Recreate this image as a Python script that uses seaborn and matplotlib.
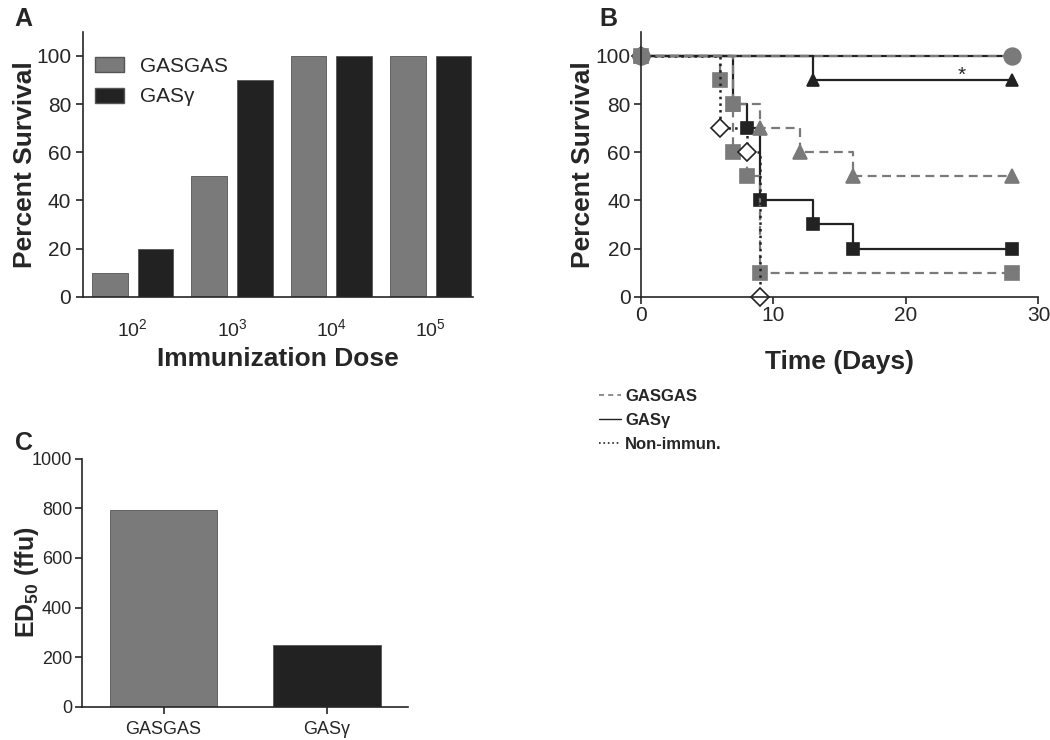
import numpy as np
import pandas as pd
import matplotlib
matplotlib.use("Agg")
import matplotlib.pyplot as plt
from matplotlib.patches import Patch
from matplotlib.lines import Line2D
import seaborn as sns

# Panel A: survival by immunization dose
doses = ["$10^2$", "$10^3$", "$10^4$", "$10^5$"]
gasgas_survival = [10, 50, 100, 100]
gasgamma_survival = [20, 90, 100, 100]

# Panel B: survival curves (days, percent)
circ_gasgamma_days = [0, 28]
circ_gasgamma_surv = [100, 100]
circ_gasgas_days = [0, 28]
circ_gasgas_surv = [100, 100]
tri_gasgamma_days = [0, 13, 28]
tri_gasgamma_surv = [100, 90, 90]
tri_gasgas_days = [0, 7, 9, 12, 16, 28]
tri_gasgas_surv = [100, 80, 70, 60, 50, 50]
sq_gasgamma_days = [0, 7, 8, 9, 13, 16, 28]
sq_gasgamma_surv = [100, 80, 70, 40, 30, 20, 20]
sq_gasgas_days = [0, 6, 7, 7, 8, 9, 28]
sq_gasgas_surv = [100, 90, 80, 60, 50, 10, 10]
nonimmun_days = [0, 6, 8, 9]
nonimmun_surv = [100, 70, 60, 0]

# Panel C: ED50
strains = ["GASGAS", "GASγ"]
ed50 = [793, 250]

GRAY = "#7a7a7a"
BLACK = "#222222"

sns.set_style("ticks")
plt.rcParams["font.family"] = ["Liberation Sans", "DejaVu Sans"]
plt.rcParams["mathtext.fontset"] = "custom"
plt.rcParams["mathtext.rm"] = "Liberation Sans"
plt.rcParams["mathtext.bf"] = "Liberation Sans:bold"
plt.rcParams["axes.linewidth"] = 1.2
plt.rcParams["xtick.major.width"] = 1.2
plt.rcParams["ytick.major.width"] = 1.2
plt.rcParams["xtick.major.size"] = 5
plt.rcParams["ytick.major.size"] = 5

fig = plt.figure(figsize=(10.5, 7.4), dpi=100)

# ---------------- Panel A ----------------
axA = fig.add_axes([0.079, 0.599, 0.371, 0.358])
dfA = pd.DataFrame({
    "dose": doses * 2,
    "survival": gasgas_survival + gasgamma_survival,
    "strain": ["GASGAS"] * 4 + ["GASγ"] * 4,
})
sns.barplot(data=dfA, x="dose", y="survival", hue="strain",
            palette=[GRAY, BLACK], width=0.92, gap=0.22, ax=axA,
            legend=False, edgecolor="#555555", linewidth=0.6)
axA.set_xlim(-0.5, 3.42)
axA.set_ylim(0, 110)
axA.set_yticks([0, 20, 40, 60, 80, 100])
axA.tick_params(axis="y", labelsize=15)
axA.tick_params(axis="x", length=0, labelsize=14, pad=16)
axA.set_xlabel("Immunization Dose", fontsize=19, fontweight="bold")
axA.set_ylabel("Percent Survival", fontsize=19, fontweight="bold")
axA.yaxis.set_label_coords(-0.118, 0.5)
axA.xaxis.set_label_coords(0.5, -0.19)
sns.despine(ax=axA)
axA.legend(handles=[Patch(facecolor=GRAY, edgecolor="#555555", label="GASGAS"),
                    Patch(facecolor=BLACK, edgecolor="#555555", label="GASγ")],
           loc="upper left", bbox_to_anchor=(0.03, 0.905), frameon=False,
           fontsize=15, handlelength=1.4, handleheight=0.75,
           labelspacing=0.55, borderpad=0, borderaxespad=0, handletextpad=0.8)

# ---------------- Panel B ----------------
axB = fig.add_axes([0.610, 0.599, 0.379, 0.358])
dash = (0, (4, 2.5))

def km(days, surv, color, ls, marker, ms, mfc=None, mec=None, lw=1.6):
    sns.lineplot(x=days, y=surv, estimator=None, sort=False, ax=axB,
                 drawstyle="steps-post", color=color, linestyle=ls,
                 linewidth=lw, marker=marker, markersize=ms,
                 markerfacecolor=mfc or color, markeredgecolor=mec or color,
                 markeredgewidth=1.2, clip_on=False)

km(circ_gasgamma_days, circ_gasgamma_surv, BLACK, "-", "o", 11)
km(tri_gasgamma_days, tri_gasgamma_surv, BLACK, "-", "^", 9)
km(sq_gasgamma_days, sq_gasgamma_surv, BLACK, "-", "s", 9)
km(tri_gasgas_days, tri_gasgas_surv, GRAY, dash, "^", 10)
km(sq_gasgas_days, sq_gasgas_surv, GRAY, dash, "s", 10)
km(nonimmun_days, nonimmun_surv, BLACK, ":", "D", 9, mfc="white", mec=BLACK, lw=1.8)
km(circ_gasgas_days, circ_gasgas_surv, GRAY, dash, "o", 12)

axB.text(24.2, 92, "*", ha="center", va="center", fontsize=15)
axB.set_xlim(0, 30)
axB.set_ylim(0, 110)
axB.set_xticks([0, 10, 20, 30])
axB.set_yticks([0, 20, 40, 60, 80, 100])
axB.tick_params(labelsize=15, pad=2)
axB.set_xlabel("Time (Days)", fontsize=19, fontweight="bold")
axB.set_ylabel("Percent Survival", fontsize=19, fontweight="bold")
axB.yaxis.set_label_coords(-0.115, 0.5)
axB.xaxis.set_label_coords(0.5, -0.2)
sns.despine(ax=axB)

fig.legend(handles=[Line2D([], [], color=GRAY, linestyle=(0, (3, 2.5)), lw=1.2, label="GASGAS"),
                    Line2D([], [], color=BLACK, linestyle="-", lw=1.0, label="GASγ"),
                    Line2D([], [], color=BLACK, linestyle=":", lw=1.2, label="Non-immun.")],
           loc="upper left", bbox_to_anchor=(0.563, 0.486), frameon=False,
           prop={"size": 12, "weight": "bold"}, handlelength=1.3,
           labelspacing=0.55, borderpad=0, handletextpad=0.25)

# ---------------- Panel C ----------------
axC = fig.add_axes([0.078, 0.045, 0.311, 0.335])
dfC = pd.DataFrame({"strain": strains, "ed50": ed50})
sns.barplot(data=dfC, x="strain", y="ed50", hue="strain",
            palette=[GRAY, BLACK], width=0.66, ax=axC, legend=False,
            edgecolor="#555555", linewidth=0.6)
axC.set_xlim(-0.5, 1.5)
axC.set_ylim(0, 1000)
axC.set_yticks([0, 200, 400, 600, 800, 1000])
axC.tick_params(axis="y", labelsize=13, pad=2)
axC.tick_params(axis="x", labelsize=13, pad=5)
axC.set_xlabel("")
axC.set_ylabel(r"ED$_{\mathbf{50}}$ (ffu)", fontsize=18, fontweight="bold")
axC.yaxis.set_label_coords(-0.125, 0.5)
sns.despine(ax=axC)

# panel letters
fig.text(0.014, 0.975, "A", fontsize=18, fontweight="bold", va="center")
fig.text(0.571, 0.975, "B", fontsize=18, fontweight="bold", va="center")
fig.text(0.014, 0.402, "C", fontsize=18, fontweight="bold", va="center")

fig.savefig("out.png", dpi=100)
